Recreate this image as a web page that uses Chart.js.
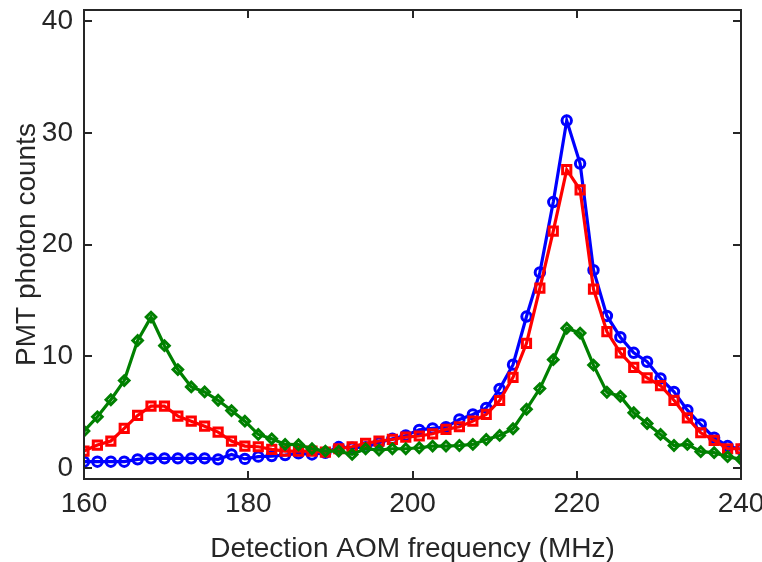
<!DOCTYPE html>
<html>
<head>
<meta charset="utf-8">
<script src="https://cdn.jsdelivr.net/npm/chart.js@4.4.1/dist/chart.umd.min.js"></script>
<style>
  html, body { margin: 0; padding: 0; background: #ffffff; }
  #wrap { width: 762px; height: 562px; }
</style>
</head>
<body>
<div id="wrap"><canvas id="c" width="762" height="562"></canvas></div>
<script>
// Detection AOM frequency sweep (MHz)
const freqMHz = [
  160.00, 161.63, 163.27, 164.90, 166.53, 168.16, 169.80, 171.43, 173.06, 174.69,
  176.33, 177.96, 179.59, 181.22, 182.86, 184.49, 186.12, 187.76, 189.39, 191.02,
  192.65, 194.29, 195.92, 197.55, 199.18, 200.82, 202.45, 204.08, 205.71, 207.35,
  208.98, 210.61, 212.24, 213.88, 215.51, 217.14, 218.78, 220.41, 222.04, 223.67,
  225.31, 226.94, 228.57, 230.20, 231.84, 233.47, 235.10, 236.73, 238.37, 240.00
];

// PMT photon counts, blue circles
const countsBlue = [
  0.55, 0.55, 0.55, 0.55, 0.76, 0.85, 0.85, 0.85, 0.85, 0.85,
  0.76, 1.20, 0.80, 1.00, 1.05, 1.15, 1.30, 1.20, 1.35, 1.86,
  1.80, 1.85, 2.25, 2.60, 2.90, 3.40, 3.53, 3.65, 4.33, 4.78,
  5.37, 7.07, 9.24, 13.55, 17.50, 23.80, 31.10, 27.25, 17.70, 13.60,
  11.70, 10.30, 9.50, 8.00, 6.80, 5.16, 3.88, 2.70, 1.95, 1.65
];

// PMT photon counts, red squares
const countsRed = [
  1.50, 2.04, 2.40, 3.53, 4.69, 5.52, 5.52, 4.63, 4.18, 3.73,
  3.20, 2.40, 1.95, 1.89, 1.65, 1.50, 1.50, 1.50, 1.41, 1.71,
  1.89, 2.19, 2.40, 2.54, 2.75, 2.85, 3.05, 3.44, 3.68, 4.18,
  4.78, 6.03, 8.10, 11.15, 16.10, 21.20, 26.70, 24.90, 16.00, 12.20,
  10.30, 9.00, 8.05, 7.37, 6.05, 4.48, 3.14, 2.46, 1.71, 1.71
];

// PMT photon counts, green diamonds
const countsGreen = [
  3.29, 4.57, 6.10, 7.81, 11.40, 13.50, 10.94, 8.80, 7.25, 6.80,
  6.05, 5.13, 4.18, 2.99, 2.60, 2.10, 2.07, 1.71, 1.50, 1.50,
  1.20, 1.71, 1.59, 1.71, 1.71, 1.80, 1.95, 1.95, 2.00, 2.10,
  2.54, 2.90, 3.50, 5.25, 7.10, 9.69, 12.50, 12.07, 9.20, 6.77,
  6.40, 4.93, 3.97, 2.99, 2.00, 2.10, 1.45, 1.36, 1.00, 0.76
];

const xTicks = [160, 180, 200, 220, 240];
const yTicks = [0, 10, 20, 30, 40];

const AXIS_COLOR = '#262626';
const FONT_FAMILY = "'Liberation Sans', Arial, Helvetica, sans-serif";

function toPoints(ys) {
  return ys.map((y, i) => ({ x: freqMHz[i], y: y }));
}

function series(label, ys, color, style, radius) {
  return {
    label: label,
    data: toPoints(ys),
    borderColor: color,
    backgroundColor: 'rgba(0,0,0,0)',
    borderWidth: 3.2,
    pointStyle: style,
    pointRadius: radius,
    pointBorderWidth: 3,
    pointBorderColor: color,
    pointBackgroundColor: 'rgba(0,0,0,0)',
    tension: 0,
    fill: false
  };
}

// Box frame with inward ticks on all four sides
const boxFrame = {
  id: 'boxFrame',
  afterDraw(chart) {
    const { ctx, chartArea: a, scales } = chart;
    const tl = 8;
    ctx.save();
    ctx.strokeStyle = AXIS_COLOR;
    ctx.lineWidth = 2;
    ctx.strokeRect(a.left, a.top, a.right - a.left, a.bottom - a.top);
    ctx.beginPath();
    xTicks.forEach(v => {
      const px = Math.round(scales.x.getPixelForValue(v));
      ctx.moveTo(px, a.bottom); ctx.lineTo(px, a.bottom - tl);
      ctx.moveTo(px, a.top); ctx.lineTo(px, a.top + tl);
    });
    yTicks.forEach(v => {
      const py = Math.round(scales.y.getPixelForValue(v));
      ctx.moveTo(a.left, py); ctx.lineTo(a.left + tl, py);
      ctx.moveTo(a.right, py); ctx.lineTo(a.right - tl, py);
    });
    ctx.stroke();
    ctx.restore();
  }
};

new Chart(document.getElementById('c'), {
  type: 'line',
  data: {
    datasets: [
      series('green', countsGreen, '#008000', 'rectRot', 4.8),
      series('red', countsRed, '#ff0000', 'rect', 5.8),
      series('blue', countsBlue, '#0000ff', 'circle', 4.7)
    ]
  },
  options: {
    responsive: false,
    devicePixelRatio: 1,
    animation: false,
    layout: { padding: { left: 0, right: 21, top: 10, bottom: 0 } },
    plugins: {
      legend: { display: false },
      tooltip: { enabled: false }
    },
    scales: {
      x: {
        type: 'linear',
        min: 160,
        max: 240,
        grid: { display: false, drawTicks: false },
        border: { display: false },
        afterBuildTicks: s => { s.ticks = xTicks.map(v => ({ value: v })); },
        afterFit: s => { s.height = 83; s.paddingLeft = 0; s.paddingRight = 0; },
        ticks: {
          color: AXIS_COLOR,
          padding: 8,
          maxRotation: 0,
          autoSkip: false,
          font: { family: FONT_FAMILY, size: 28 }
        },
        title: {
          display: true,
          text: 'Detection AOM frequency (MHz)',
          color: AXIS_COLOR,
          padding: { top: 0, bottom: -1 },
          font: { family: FONT_FAMILY, size: 28, lineHeight: 1 }
        }
      },
      y: {
        type: 'linear',
        min: -1,
        max: 41,
        grid: { display: false, drawTicks: false },
        border: { display: false },
        afterBuildTicks: s => { s.ticks = yTicks.map(v => ({ value: v })); },
        afterFit: s => { s.width = 84; s.paddingTop = 0; s.paddingBottom = 0; },
        ticks: {
          color: AXIS_COLOR,
          padding: 11,
          autoSkip: false,
          font: { family: FONT_FAMILY, size: 28 }
        },
        title: {
          display: true,
          text: 'PMT photon counts',
          color: AXIS_COLOR,
          padding: { top: 13, bottom: 0 },
          font: { family: FONT_FAMILY, size: 28, lineHeight: 1 }
        }
      }
    }
  },
  plugins: [boxFrame]
});
</script>
</body>
</html>
